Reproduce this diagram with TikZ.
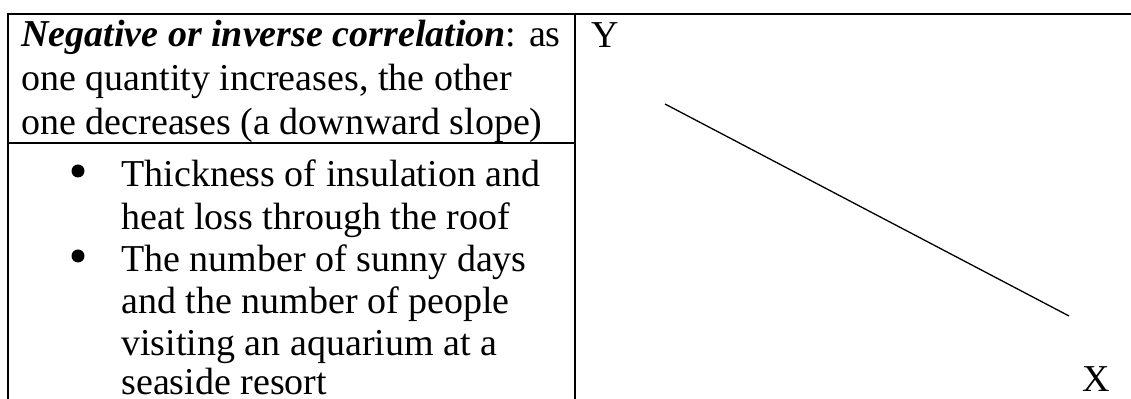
\documentclass[tikz,border=0pt]{standalone}
\usepackage{fontspec}
\setmainfont{Liberation Serif}
\begin{document}
\begin{tikzpicture}[x=0.5pt,y=-0.5pt,
  txt/.style={anchor=base west, inner sep=0pt, font=\fontsize{19}{21.8}\selectfont},
  rule/.style={line width=1.1pt},
  slope/.style={line width=0.65pt}]
\useasboundingbox (0,0) rectangle (1131,399);
% table rules
\draw[rule] (8,14) -- (1131,14);
\draw[rule] (8,13) -- (8,399);
\draw[rule] (575,14) -- (575,399);
\draw[rule] (8,143) -- (575,143);
% header text
\node[txt] (h1) at (21,47) {\textbf{\textit{Negative or inverse correlation}}: as};
\node[txt] (h2) at (21,91) {one quantity increases, the other};
\node[txt] (h3) at (21,135) {one decreases (a downward slope)};
% bullets
\fill (78,171) circle (6.5);
\fill (78,256) circle (6.5);
\node[txt] (b1) at (121,187) {Thickness of insulation and};
\node[txt] (b2) at (121,229.5) {heat loss through the roof};
\node[txt] (b3) at (121,272) {The number of sunny days};
\node[txt] (b4) at (121,314) {and the number of people};
\node[txt] (b5) at (121,355.5) {visiting an aquarium at a};
\node[txt] (b6) at (121,395) {seaside resort};
% graph
\node[txt] (Y) at (591,48) {Y};
\node[txt] (X) at (1082,392) {X};
\coordinate (s1) at (665,104);
\coordinate (s2) at (1069,316);
\draw[slope] (s1) -- (s2);
\end{tikzpicture}
\end{document}
